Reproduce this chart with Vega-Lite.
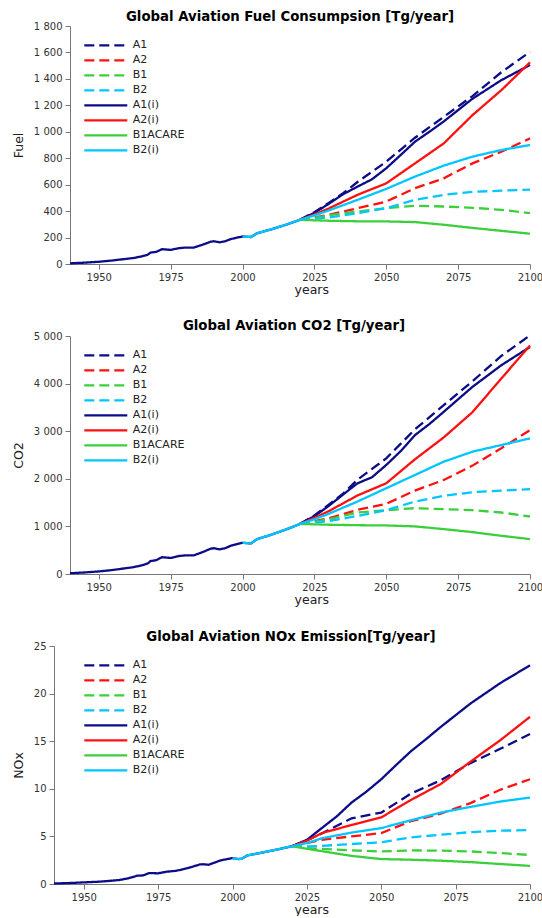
{
  "$schema": "https://vega.github.io/schema/vega-lite/v6.json",
  "padding": {"left": 12, "top": 9, "right": 0, "bottom": 0},
  "spacing": 23,
  "columns": 1,
  "align": "none",
  "config": {
    "font": "DejaVu Sans",
    "view": {"stroke": null},
    "locale": {"number": {"decimal": ",", "thousands": " ", "grouping": [3], "currency": ["", ""]}},
    "axis": {"grid": false, "domainColor": "#777", "tickColor": "#777", "tickSize": 5, "labelFont": "DejaVu Sans", "labelFontSize": 10, "labelColor": "#333", "labelPadding": 3, "titleFont": "DejaVu Sans", "titleFontSize": 12.5, "titleFontWeight": "normal", "titleColor": "#222"},
    "axisX": {"titlePadding": 1, "format": "d", "labelFlush": false},
    "axisY": {"titlePadding": 8},
    "title": {"font": "DejaVu Sans", "fontSize": 13.3, "fontWeight": "bold", "color": "#000", "offset": -2, "frame": "group"},
    "legend": {"orient": "none", "legendX": 28.8, "legendY": 12, "padding": 0, "symbolType": "stroke", "symbolSize": 1849, "symbolStrokeWidth": 3, "clipHeight": 14.9, "rowPadding": 0, "labelOffset": 4, "labelFont": "DejaVu Sans", "labelFontSize": 11, "labelColor": "#222", "title": null},
    "line": {"strokeWidth": 2.3}
  },
  "datasets": {
    "fuel": [
      {"s":"A1(i)","year":1940,"v":5},{"s":"A1(i)","year":1945,"v":10},{"s":"A1(i)","year":1950,"v":17},{"s":"A1(i)","year":1955,"v":27},{"s":"A1(i)","year":1958,"v":35},{"s":"A1(i)","year":1962,"v":45},{"s":"A1(i)","year":1965,"v":58},{"s":"A1(i)","year":1967,"v":70},{"s":"A1(i)","year":1968,"v":86},{"s":"A1(i)","year":1970,"v":92},{"s":"A1(i)","year":1972,"v":112},{"s":"A1(i)","year":1975,"v":107},{"s":"A1(i)","year":1978,"v":120},{"s":"A1(i)","year":1980,"v":124},{"s":"A1(i)","year":1983,"v":124},{"s":"A1(i)","year":1986,"v":145},{"s":"A1(i)","year":1989,"v":169},{"s":"A1(i)","year":1990,"v":172},{"s":"A1(i)","year":1992,"v":164},{"s":"A1(i)","year":1994,"v":172},{"s":"A1(i)","year":1996,"v":189},{"s":"A1(i)","year":1998,"v":199},{"s":"A1(i)","year":2000,"v":208},{"s":"A1(i)","year":2003,"v":204},{"s":"A1(i)","year":2005,"v":232},{"s":"A1(i)","year":2010,"v":262},{"s":"A1(i)","year":2015,"v":296},{"s":"A1(i)","year":2020,"v":334},{"s":"A1(i)","year":2025,"v":387},{"s":"A1(i)","year":2030,"v":455},{"s":"A1(i)","year":2035,"v":528},{"s":"A1(i)","year":2040,"v":585},{"s":"A1(i)","year":2045,"v":640},{"s":"A1(i)","year":2050,"v":724},{"s":"A1(i)","year":2055,"v":824},{"s":"A1(i)","year":2060,"v":925},{"s":"A1(i)","year":2065,"v":1000},{"s":"A1(i)","year":2070,"v":1078},{"s":"A1(i)","year":2080,"v":1250},{"s":"A1(i)","year":2090,"v":1390},{"s":"A1(i)","year":2100,"v":1505},
      {"s":"A1","year":2020,"v":334},{"s":"A1","year":2025,"v":392},{"s":"A1","year":2030,"v":462},{"s":"A1","year":2035,"v":535},{"s":"A1","year":2040,"v":620},{"s":"A1","year":2050,"v":774},{"s":"A1","year":2060,"v":955},{"s":"A1","year":2070,"v":1113},{"s":"A1","year":2080,"v":1270},{"s":"A1","year":2090,"v":1450},{"s":"A1","year":2100,"v":1604},
      {"s":"A2","year":2020,"v":334},{"s":"A2","year":2025,"v":352},{"s":"A2","year":2030,"v":372},{"s":"A2","year":2040,"v":422},{"s":"A2","year":2050,"v":472},{"s":"A2","year":2060,"v":573},{"s":"A2","year":2070,"v":648},{"s":"A2","year":2080,"v":761},{"s":"A2","year":2090,"v":849},{"s":"A2","year":2100,"v":950},
      {"s":"B1","year":2020,"v":334},{"s":"B1","year":2025,"v":350},{"s":"B1","year":2030,"v":368},{"s":"B1","year":2040,"v":397},{"s":"B1","year":2050,"v":422},{"s":"B1","year":2060,"v":440},{"s":"B1","year":2070,"v":435},{"s":"B1","year":2080,"v":425},{"s":"B1","year":2090,"v":410},{"s":"B1","year":2100,"v":385},
      {"s":"B2","year":2020,"v":334},{"s":"B2","year":2025,"v":343},{"s":"B2","year":2030,"v":352},{"s":"B2","year":2040,"v":385},{"s":"B2","year":2050,"v":422},{"s":"B2","year":2060,"v":485},{"s":"B2","year":2070,"v":523},{"s":"B2","year":2080,"v":545},{"s":"B2","year":2090,"v":555},{"s":"B2","year":2100,"v":562},
      {"s":"A2(i)","year":2020,"v":334},{"s":"A2(i)","year":2025,"v":375},{"s":"A2(i)","year":2030,"v":420},{"s":"A2(i)","year":2040,"v":523},{"s":"A2(i)","year":2050,"v":610},{"s":"A2(i)","year":2060,"v":761},{"s":"A2(i)","year":2070,"v":912},{"s":"A2(i)","year":2080,"v":1126},{"s":"A2(i)","year":2090,"v":1314},{"s":"A2(i)","year":2100,"v":1525},
      {"s":"B1ACARE","year":2020,"v":334},{"s":"B1ACARE","year":2030,"v":327},{"s":"B1ACARE","year":2040,"v":323},{"s":"B1ACARE","year":2050,"v":322},{"s":"B1ACARE","year":2060,"v":317},{"s":"B1ACARE","year":2070,"v":297},{"s":"B1ACARE","year":2080,"v":273},{"s":"B1ACARE","year":2090,"v":251},{"s":"B1ACARE","year":2100,"v":229},
      {"s":"B2(i)","year":2000,"v":208},{"s":"B2(i)","year":2003,"v":204},{"s":"B2(i)","year":2005,"v":232},{"s":"B2(i)","year":2010,"v":262},{"s":"B2(i)","year":2015,"v":296},{"s":"B2(i)","year":2020,"v":334},{"s":"B2(i)","year":2025,"v":368},{"s":"B2(i)","year":2030,"v":405},{"s":"B2(i)","year":2040,"v":485},{"s":"B2(i)","year":2050,"v":568},{"s":"B2(i)","year":2060,"v":661},{"s":"B2(i)","year":2070,"v":744},{"s":"B2(i)","year":2080,"v":812},{"s":"B2(i)","year":2090,"v":862},{"s":"B2(i)","year":2100,"v":900}
    ],
    "co2": [
      {"s":"A1(i)","year":1940,"v":16},{"s":"A1(i)","year":1945,"v":32},{"s":"A1(i)","year":1950,"v":54},{"s":"A1(i)","year":1955,"v":85},{"s":"A1(i)","year":1958,"v":110},{"s":"A1(i)","year":1962,"v":142},{"s":"A1(i)","year":1965,"v":183},{"s":"A1(i)","year":1967,"v":220},{"s":"A1(i)","year":1968,"v":271},{"s":"A1(i)","year":1970,"v":290},{"s":"A1(i)","year":1972,"v":353},{"s":"A1(i)","year":1975,"v":337},{"s":"A1(i)","year":1978,"v":378},{"s":"A1(i)","year":1980,"v":390},{"s":"A1(i)","year":1983,"v":390},{"s":"A1(i)","year":1986,"v":457},{"s":"A1(i)","year":1989,"v":532},{"s":"A1(i)","year":1990,"v":542},{"s":"A1(i)","year":1992,"v":517},{"s":"A1(i)","year":1994,"v":542},{"s":"A1(i)","year":1996,"v":595},{"s":"A1(i)","year":1998,"v":627},{"s":"A1(i)","year":2000,"v":655},{"s":"A1(i)","year":2003,"v":643},{"s":"A1(i)","year":2005,"v":731},{"s":"A1(i)","year":2010,"v":825},{"s":"A1(i)","year":2015,"v":932},{"s":"A1(i)","year":2020,"v":1052},{"s":"A1(i)","year":2025,"v":1215},{"s":"A1(i)","year":2030,"v":1430},{"s":"A1(i)","year":2035,"v":1670},{"s":"A1(i)","year":2040,"v":1906},{"s":"A1(i)","year":2045,"v":2030},{"s":"A1(i)","year":2050,"v":2290},{"s":"A1(i)","year":2055,"v":2580},{"s":"A1(i)","year":2060,"v":2919},{"s":"A1(i)","year":2065,"v":3150},{"s":"A1(i)","year":2070,"v":3408},{"s":"A1(i)","year":2080,"v":3932},{"s":"A1(i)","year":2090,"v":4385},{"s":"A1(i)","year":2100,"v":4770},
      {"s":"A1","year":2020,"v":1052},{"s":"A1","year":2025,"v":1230},{"s":"A1","year":2030,"v":1455},{"s":"A1","year":2035,"v":1690},{"s":"A1","year":2040,"v":1980},{"s":"A1","year":2050,"v":2430},{"s":"A1","year":2060,"v":3040},{"s":"A1","year":2070,"v":3547},{"s":"A1","year":2080,"v":4050},{"s":"A1","year":2090,"v":4580},{"s":"A1","year":2100,"v":5014},
      {"s":"A2","year":2020,"v":1052},{"s":"A2","year":2025,"v":1110},{"s":"A2","year":2030,"v":1170},{"s":"A2","year":2040,"v":1348},{"s":"A2","year":2050,"v":1473},{"s":"A2","year":2060,"v":1753},{"s":"A2","year":2070,"v":1976},{"s":"A2","year":2080,"v":2277},{"s":"A2","year":2090,"v":2640},{"s":"A2","year":2100,"v":3024},
      {"s":"B1","year":2020,"v":1052},{"s":"B1","year":2025,"v":1100},{"s":"B1","year":2030,"v":1150},{"s":"B1","year":2040,"v":1292},{"s":"B1","year":2050,"v":1340},{"s":"B1","year":2060,"v":1383},{"s":"B1","year":2070,"v":1362},{"s":"B1","year":2080,"v":1340},{"s":"B1","year":2090,"v":1292},{"s":"B1","year":2100,"v":1208},
      {"s":"B2","year":2020,"v":1052},{"s":"B2","year":2025,"v":1085},{"s":"B2","year":2030,"v":1110},{"s":"B2","year":2040,"v":1220},{"s":"B2","year":2050,"v":1340},{"s":"B2","year":2060,"v":1522},{"s":"B2","year":2070,"v":1641},{"s":"B2","year":2080,"v":1718},{"s":"B2","year":2090,"v":1753},{"s":"B2","year":2100,"v":1781},
      {"s":"A2(i)","year":2020,"v":1052},{"s":"A2(i)","year":2025,"v":1180},{"s":"A2(i)","year":2030,"v":1320},{"s":"A2(i)","year":2040,"v":1650},{"s":"A2(i)","year":2050,"v":1906},{"s":"A2(i)","year":2060,"v":2410},{"s":"A2(i)","year":2070,"v":2870},{"s":"A2(i)","year":2080,"v":3400},{"s":"A2(i)","year":2090,"v":4106},{"s":"A2(i)","year":2100,"v":4800},
      {"s":"B1ACARE","year":2020,"v":1052},{"s":"B1ACARE","year":2030,"v":1035},{"s":"B1ACARE","year":2040,"v":1025},{"s":"B1ACARE","year":2050,"v":1020},{"s":"B1ACARE","year":2060,"v":1000},{"s":"B1ACARE","year":2070,"v":943},{"s":"B1ACARE","year":2080,"v":880},{"s":"B1ACARE","year":2090,"v":803},{"s":"B1ACARE","year":2100,"v":733},
      {"s":"B2(i)","year":2000,"v":655},{"s":"B2(i)","year":2003,"v":643},{"s":"B2(i)","year":2005,"v":731},{"s":"B2(i)","year":2010,"v":825},{"s":"B2(i)","year":2015,"v":932},{"s":"B2(i)","year":2020,"v":1052},{"s":"B2(i)","year":2025,"v":1150},{"s":"B2(i)","year":2030,"v":1265},{"s":"B2(i)","year":2040,"v":1522},{"s":"B2(i)","year":2050,"v":1802},{"s":"B2(i)","year":2060,"v":2081},{"s":"B2(i)","year":2070,"v":2360},{"s":"B2(i)","year":2080,"v":2570},{"s":"B2(i)","year":2090,"v":2709},{"s":"B2(i)","year":2100,"v":2849}
    ],
    "nox": [
      {"s":"A1(i)","year":1940,"v":0.05},{"s":"A1(i)","year":1945,"v":0.1},{"s":"A1(i)","year":1950,"v":0.17},{"s":"A1(i)","year":1955,"v":0.24},{"s":"A1(i)","year":1958,"v":0.31},{"s":"A1(i)","year":1962,"v":0.42},{"s":"A1(i)","year":1965,"v":0.6},{"s":"A1(i)","year":1968,"v":0.87},{"s":"A1(i)","year":1970,"v":0.9},{"s":"A1(i)","year":1972,"v":1.15},{"s":"A1(i)","year":1975,"v":1.12},{"s":"A1(i)","year":1978,"v":1.3},{"s":"A1(i)","year":1981,"v":1.38},{"s":"A1(i)","year":1985,"v":1.67},{"s":"A1(i)","year":1989,"v":2.05},{"s":"A1(i)","year":1990,"v":2.08},{"s":"A1(i)","year":1992,"v":2.02},{"s":"A1(i)","year":1996,"v":2.48},{"s":"A1(i)","year":2000,"v":2.72},{"s":"A1(i)","year":2002,"v":2.62},{"s":"A1(i)","year":2003,"v":2.64},{"s":"A1(i)","year":2005,"v":3.0},{"s":"A1(i)","year":2010,"v":3.3},{"s":"A1(i)","year":2015,"v":3.62},{"s":"A1(i)","year":2020,"v":3.97},{"s":"A1(i)","year":2025,"v":4.64},{"s":"A1(i)","year":2030,"v":5.87},{"s":"A1(i)","year":2035,"v":7.09},{"s":"A1(i)","year":2040,"v":8.55},{"s":"A1(i)","year":2045,"v":9.7},{"s":"A1(i)","year":2050,"v":11.0},{"s":"A1(i)","year":2055,"v":12.5},{"s":"A1(i)","year":2060,"v":13.95},{"s":"A1(i)","year":2065,"v":15.2},{"s":"A1(i)","year":2070,"v":16.5},{"s":"A1(i)","year":2080,"v":18.96},{"s":"A1(i)","year":2090,"v":21.1},{"s":"A1(i)","year":2100,"v":22.97},
      {"s":"A1","year":2020,"v":3.97},{"s":"A1","year":2025,"v":4.6},{"s":"A1","year":2030,"v":5.3},{"s":"A1","year":2040,"v":6.9},{"s":"A1","year":2050,"v":7.5},{"s":"A1","year":2060,"v":9.5},{"s":"A1","year":2070,"v":10.9},{"s":"A1","year":2080,"v":12.7},{"s":"A1","year":2090,"v":14.2},{"s":"A1","year":2100,"v":15.75},
      {"s":"A2","year":2020,"v":3.97},{"s":"A2","year":2025,"v":4.3},{"s":"A2","year":2030,"v":4.64},{"s":"A2","year":2040,"v":5.0},{"s":"A2","year":2050,"v":5.35},{"s":"A2","year":2060,"v":6.6},{"s":"A2","year":2070,"v":7.4},{"s":"A2","year":2080,"v":8.5},{"s":"A2","year":2090,"v":9.9},{"s":"A2","year":2100,"v":11.0},
      {"s":"B1","year":2020,"v":3.97},{"s":"B1","year":2025,"v":3.77},{"s":"B1","year":2030,"v":3.7},{"s":"B1","year":2040,"v":3.53},{"s":"B1","year":2050,"v":3.42},{"s":"B1","year":2060,"v":3.53},{"s":"B1","year":2070,"v":3.5},{"s":"B1","year":2080,"v":3.42},{"s":"B1","year":2090,"v":3.25},{"s":"B1","year":2100,"v":3.05},
      {"s":"B2","year":2020,"v":3.97},{"s":"B2","year":2025,"v":3.95},{"s":"B2","year":2030,"v":4.0},{"s":"B2","year":2040,"v":4.2},{"s":"B2","year":2050,"v":4.38},{"s":"B2","year":2060,"v":4.9},{"s":"B2","year":2070,"v":5.17},{"s":"B2","year":2080,"v":5.45},{"s":"B2","year":2090,"v":5.6},{"s":"B2","year":2100,"v":5.66},
      {"s":"A2(i)","year":2020,"v":3.97},{"s":"A2(i)","year":2025,"v":4.54},{"s":"A2(i)","year":2030,"v":5.34},{"s":"A2(i)","year":2040,"v":6.2},{"s":"A2(i)","year":2050,"v":7.0},{"s":"A2(i)","year":2060,"v":8.83},{"s":"A2(i)","year":2070,"v":10.5},{"s":"A2(i)","year":2080,"v":12.85},{"s":"A2(i)","year":2090,"v":15.1},{"s":"A2(i)","year":2100,"v":17.56},
      {"s":"B1ACARE","year":2020,"v":3.97},{"s":"B1ACARE","year":2025,"v":3.7},{"s":"B1ACARE","year":2030,"v":3.45},{"s":"B1ACARE","year":2040,"v":2.95},{"s":"B1ACARE","year":2050,"v":2.62},{"s":"B1ACARE","year":2060,"v":2.55},{"s":"B1ACARE","year":2070,"v":2.45},{"s":"B1ACARE","year":2080,"v":2.3},{"s":"B1ACARE","year":2090,"v":2.1},{"s":"B1ACARE","year":2100,"v":1.9},
      {"s":"B2(i)","year":2000,"v":2.72},{"s":"B2(i)","year":2002,"v":2.62},{"s":"B2(i)","year":2003,"v":2.64},{"s":"B2(i)","year":2005,"v":3.0},{"s":"B2(i)","year":2010,"v":3.3},{"s":"B2(i)","year":2015,"v":3.62},{"s":"B2(i)","year":2020,"v":3.97},{"s":"B2(i)","year":2025,"v":4.3},{"s":"B2(i)","year":2030,"v":4.8},{"s":"B2(i)","year":2040,"v":5.4},{"s":"B2(i)","year":2050,"v":5.87},{"s":"B2(i)","year":2060,"v":6.7},{"s":"B2(i)","year":2070,"v":7.5},{"s":"B2(i)","year":2080,"v":8.1},{"s":"B2(i)","year":2090,"v":8.66},{"s":"B2(i)","year":2100,"v":9.08}
    ]
  },
  "concat": [
    {
      "data": {"name": "fuel"},
      "title": {"text": "Global Aviation Fuel Consumpsion [Tg/year]", "dx": -2},
      "width": 476, "height": 238,
      "mark": {"type": "line"},
      "encoding": {
        "x": {"field": "year", "type": "quantitative", "scale": {"domain": [1940, 2100], "nice": false, "range": [16, 476]}, "axis": {"title": "years", "titleX": 257.3, "values": [1950, 1975, 2000, 2025, 2050, 2075, 2100]}},
        "y": {"field": "v", "type": "quantitative", "scale": {"domain": [0, 1800], "nice": false}, "axis": {"title": "Fuel", "offset": -16, "values": [0, 200, 400, 600, 800, 1000, 1200, 1400, 1600, 1800]}},
        "color": {"field": "s", "type": "nominal", "scale": {"domain": ["A1", "A2", "B1", "B2", "A1(i)", "A2(i)", "B1ACARE", "B2(i)"], "range": ["#0c0c88", "#ff1111", "#3ccf3c", "#00c6ff", "#0c0c88", "#ff1111", "#3ccf3c", "#00c6ff"]}},
        "strokeDash": {"field": "s", "type": "nominal", "scale": {"domain": ["A1", "A2", "B1", "B2", "A1(i)", "A2(i)", "B1ACARE", "B2(i)"], "range": [[10, 5], [10, 5], [10, 5], [10, 5], [1, 0], [1, 0], [1, 0], [1, 0]]}}
      }
    },
    {
      "data": {"name": "co2"},
      "title": {"text": "Global Aviation CO2 [Tg/year]", "dx": 2},
      "width": 476, "height": 238,
      "mark": {"type": "line"},
      "encoding": {
        "x": {"field": "year", "type": "quantitative", "scale": {"domain": [1940, 2100], "nice": false, "range": [16, 476]}, "axis": {"title": "years", "titleX": 257.3, "values": [1950, 1975, 2000, 2025, 2050, 2075, 2100]}},
        "y": {"field": "v", "type": "quantitative", "scale": {"domain": [0, 5000], "nice": false}, "axis": {"title": "CO2", "offset": -16, "values": [0, 1000, 2000, 3000, 4000, 5000]}},
        "color": {"field": "s", "type": "nominal", "scale": {"domain": ["A1", "A2", "B1", "B2", "A1(i)", "A2(i)", "B1ACARE", "B2(i)"], "range": ["#0c0c88", "#ff1111", "#3ccf3c", "#00c6ff", "#0c0c88", "#ff1111", "#3ccf3c", "#00c6ff"]}},
        "strokeDash": {"field": "s", "type": "nominal", "scale": {"domain": ["A1", "A2", "B1", "B2", "A1(i)", "A2(i)", "B1ACARE", "B2(i)"], "range": [[10, 5], [10, 5], [10, 5], [10, 5], [1, 0], [1, 0], [1, 0], [1, 0]]}}
      }
    },
    {
      "data": {"name": "nox"},
      "title": {"text": "Global Aviation NOx Emission[Tg/year]", "dx": -1},
      "width": 476, "height": 238,
      "mark": {"type": "line"},
      "encoding": {
        "x": {"field": "year", "type": "quantitative", "scale": {"domain": [1940, 2100], "nice": false}, "axis": {"title": "years", "titleX": 257.3, "values": [1950, 1975, 2000, 2025, 2050, 2075, 2100]}},
        "y": {"field": "v", "type": "quantitative", "scale": {"domain": [0, 25], "nice": false}, "axis": {"title": "NOx", "values": [0, 5, 10, 15, 20, 25]}},
        "color": {"field": "s", "type": "nominal", "scale": {"domain": ["A1", "A2", "B1", "B2", "A1(i)", "A2(i)", "B1ACARE", "B2(i)"], "range": ["#0c0c88", "#ff1111", "#3ccf3c", "#00c6ff", "#0c0c88", "#ff1111", "#3ccf3c", "#00c6ff"]}},
        "strokeDash": {"field": "s", "type": "nominal", "scale": {"domain": ["A1", "A2", "B1", "B2", "A1(i)", "A2(i)", "B1ACARE", "B2(i)"], "range": [[10, 5], [10, 5], [10, 5], [10, 5], [1, 0], [1, 0], [1, 0], [1, 0]]}}
      }
    }
  ],
  "resolve": {
    "scale": {"y": "independent", "x": "independent", "color": "independent", "strokeDash": "independent"},
    "legend": {"color": "independent", "strokeDash": "independent"}
  }
}
